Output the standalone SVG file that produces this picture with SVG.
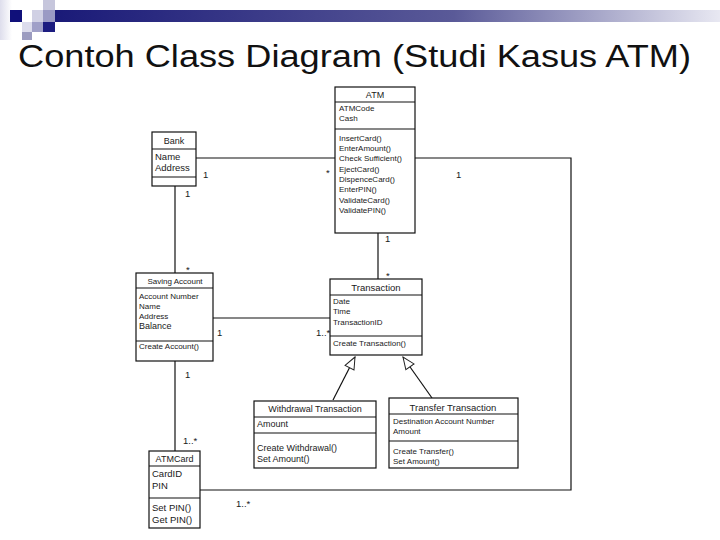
<svg xmlns="http://www.w3.org/2000/svg" width="720" height="540" viewBox="0 0 720 540">
<defs>
<linearGradient id="bar" x1="0" y1="0" x2="1" y2="0">
<stop offset="0" stop-color="#1a1a78"/>
<stop offset="0.6" stop-color="#5a5a98"/>
<stop offset="1" stop-color="#e8e8f2"/>
</linearGradient>
<linearGradient id="fade" x1="0" y1="0" x2="1" y2="0">
<stop offset="0" stop-color="#c8c8e0"/>
<stop offset="1" stop-color="#ffffff"/>
</linearGradient>
<marker id="gen" viewBox="0 0 14 12" refX="13" refY="6" markerWidth="14" markerHeight="12" markerUnits="userSpaceOnUse" orient="auto">
<path d="M1,1 L13,6 L1,11 Z" fill="#fff" stroke="#222" stroke-width="1"/>
</marker>
</defs>
<style>
.box{fill:#fff;stroke:#111;stroke-width:1.2}
.div{stroke:#111;stroke-width:1.1}
.t{font-family:"Liberation Sans",Arial,sans-serif;fill:#1a1a1a}
.s8{font-size:8px}
.s9{font-size:9px}
.s95{font-size:9.5px}
.c{text-anchor:middle}
.ln{fill:none;stroke:#111;stroke-width:1.2}
.m{font-family:"Liberation Sans",Arial,sans-serif;font-size:9.5px;fill:#1a1a1a}
</style>
<rect width="720" height="540" fill="#fff"/>
<g id="header">
<rect x="0" y="0" width="12" height="40" fill="url(#fade)" opacity="0.6"/>
<rect x="43" y="0" width="12" height="10" fill="#c6c6dc"/>
<rect x="10" y="10" width="12" height="12" fill="#10107a"/>
<rect x="32" y="10" width="11" height="12" fill="#d0d0e4"/>
<rect x="43" y="10" width="12" height="12" fill="#9a9ac4"/>
<rect x="55" y="10" width="665" height="12" fill="url(#bar)"/>
<rect x="22" y="22" width="10" height="10" fill="#dcdcec"/>
<rect x="32" y="22" width="11" height="10" fill="#a0a0c8"/>
<rect x="43" y="22" width="12" height="10" fill="#1c1c80"/>
<rect x="22" y="32" width="10" height="8" fill="#9c9cc0"/>
</g>
<text x="18" y="67" font-family="Liberation Sans,Arial,sans-serif" font-size="31" fill="#111" textLength="673" lengthAdjust="spacingAndGlyphs">Contoh Class Diagram (Studi Kasus ATM)</text>
<g id="connectors">
<line class="ln" x1="196" y1="158" x2="336" y2="158"/>
<polyline class="ln" points="415,158 571,158 571,490 200,490" stroke="#333"/>
<line class="ln" x1="175" y1="186" x2="175" y2="273"/>
<line class="ln" x1="378" y1="233" x2="378" y2="279"/>
<line class="ln" x1="213" y1="318" x2="330" y2="318"/>
<line class="ln" x1="175" y1="361" x2="175" y2="451"/>
<line class="ln" x1="333" y1="400" x2="355" y2="357" marker-end="url(#gen)"/>
<line class="ln" x1="432" y1="398" x2="403" y2="357" marker-end="url(#gen)"/>
<text class="m" x="203" y="178">1</text>
<text class="m" x="326" y="176">*</text>
<text class="m" x="456" y="178">1</text>
<text class="m" x="185" y="197">1</text>
<text class="m" x="186" y="273">*</text>
<text class="m" x="385" y="242">1</text>
<text class="m" x="386" y="279">*</text>
<text class="m" x="217" y="336">1</text>
<text class="m" x="316" y="336">1..*</text>
<text class="m" x="185" y="378">1</text>
<text class="m" x="183" y="444">1..*</text>
<text class="m" x="236" y="507">1..*</text>
</g>
<g id="atm">
<rect class="box" x="335" y="87" width="80" height="146"/>
<line class="div" x1="335" y1="102" x2="415" y2="102"/>
<line class="div" x1="335" y1="129" x2="415" y2="129"/>
<text class="t s9 c" x="375" y="98">ATM</text>
<text class="t s8" x="339" y="111">ATMCode</text>
<text class="t s8" x="339" y="121">Cash</text>
<text class="t s8" x="339" y="141">InsertCard()</text>
<text class="t s8" x="339" y="151">EnterAmount()</text>
<text class="t s8" x="339" y="161">Check Sufficient()</text>
<text class="t s8" x="339" y="172">EjectCard()</text>
<text class="t s8" x="339" y="182">DispenceCard()</text>
<text class="t s8" x="339" y="192">EnterPIN()</text>
<text class="t s8" x="339" y="203">ValidateCard()</text>
<text class="t s8" x="339" y="213">ValidatePIN()</text>
</g>
<g id="bank">
<rect class="box" x="152" y="132" width="44" height="54"/>
<line class="div" x1="152" y1="149" x2="196" y2="149"/>
<line class="div" x1="152" y1="177" x2="196" y2="177"/>
<text class="t s9 c" x="174" y="144">Bank</text>
<text class="t s95" x="155" y="160">Name</text>
<text class="t s95" x="155" y="171">Address</text>
</g>
<g id="saving-account">
<rect class="box" x="136" y="273" width="77" height="88"/>
<line class="div" x1="136" y1="288" x2="213" y2="288"/>
<line class="div" x1="136" y1="341" x2="213" y2="341"/>
<text class="t s8 c" x="175" y="284">Saving Account</text>
<text class="t s8" x="139" y="299">Account Number</text>
<text class="t s8" x="139" y="309">Name</text>
<text class="t s8" x="139" y="319">Address</text>
<text class="t s9" x="139" y="329">Balance</text>
<text class="t s8" x="139" y="349">Create Account()</text>
</g>
<g id="transaction">
<rect class="box" x="330" y="279" width="92" height="76"/>
<line class="div" x1="330" y1="295" x2="422" y2="295"/>
<line class="div" x1="330" y1="336" x2="422" y2="336"/>
<text class="t s95 c" x="376" y="291">Transaction</text>
<text class="t s8" x="333" y="304">Date</text>
<text class="t s8" x="333" y="314">Time</text>
<text class="t s8" x="333" y="325">TransactionID</text>
<text class="t s8" x="333" y="346">Create Transaction()</text>
</g>
<g id="withdrawal-transaction">
<rect class="box" x="254" y="401" width="122" height="67"/>
<line class="div" x1="254" y1="417" x2="376" y2="417"/>
<line class="div" x1="254" y1="433" x2="376" y2="433"/>
<text class="t s9 c" x="315" y="412">Withdrawal Transaction</text>
<text class="t s9" x="257" y="427">Amount</text>
<text class="t s9" x="257" y="451">Create Withdrawal()</text>
<text class="t s9" x="257" y="462">Set Amount()</text>
</g>
<g id="transfer-transaction">
<rect class="box" x="389" y="398" width="129" height="70"/>
<line class="div" x1="389" y1="414" x2="518" y2="414"/>
<line class="div" x1="389" y1="441" x2="518" y2="441"/>
<text class="t s95 c" x="453" y="411">Transfer Transaction</text>
<text class="t s8" x="393" y="424">Destination Account Number</text>
<text class="t s8" x="393" y="434">Amount</text>
<text class="t s8" x="393" y="454">Create Transfer()</text>
<text class="t s8" x="393" y="464">Set Amount()</text>
</g>
<g id="atmcard">
<rect class="box" x="149" y="451" width="51" height="77"/>
<line class="div" x1="149" y1="466" x2="200" y2="466"/>
<line class="div" x1="149" y1="498" x2="200" y2="498"/>
<text class="t s9 c" x="174.5" y="462">ATMCard</text>
<text class="t s95" x="152" y="477">CardID</text>
<text class="t s95" x="152" y="489">PIN</text>
<text class="t s95" x="152" y="511">Set PIN()</text>
<text class="t s95" x="152" y="523">Get PIN()</text>
</g>
</svg>
